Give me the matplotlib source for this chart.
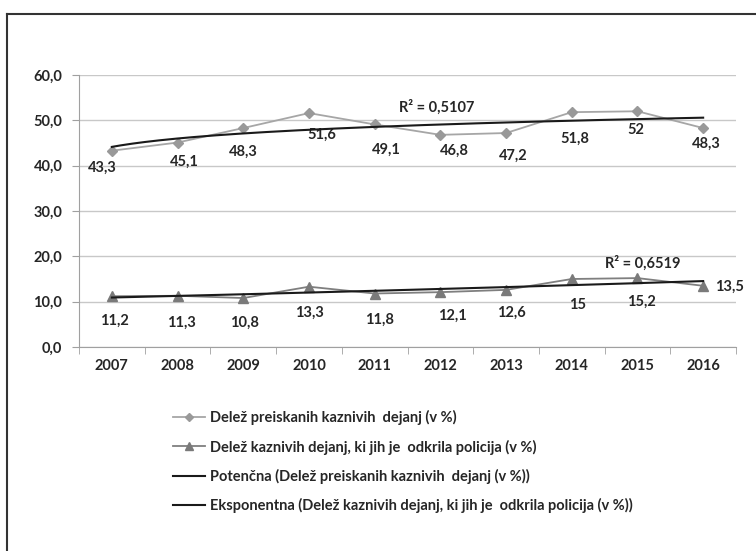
import numpy as np
import matplotlib.pyplot as plt
from matplotlib.lines import Line2D

plt.rcParams['font.family'] = ['Lato', 'DejaVu Sans']

years = ['2007', '2008', '2009', '2010', '2011', '2012', '2013', '2014', '2015', '2016']
preiskana = [43.3, 45.1, 48.3, 51.6, 49.1, 46.8, 47.2, 51.8, 52.0, 48.3]
odkrila = [11.2, 11.3, 10.8, 13.3, 11.8, 12.1, 12.6, 15.0, 15.2, 13.5]
labels1 = ['43,3', '45,1', '48,3', '51,6', '49,1', '46,8', '47,2', '51,8', '52', '48,3']
labels2 = ['11,2', '11,3', '10,8', '13,3', '11,8', '12,1', '12,6', '15', '15,2', '13,5']
r2_labels = ['R² = 0,5107', 'R² = 0,6519']
legend_labels = ['Delež preiskanih kaznivih  dejanj (v %)',
                 'Delež kaznivih dejanj, ki jih je  odkrila policija (v %)',
                 'Potenčna (Delež preiskanih kaznivih  dejanj (v %))',
                 'Eksponentna (Delež kaznivih dejanj, ki jih je  odkrila policija (v %))']

# label offsets (pixels) - placed roughly like in the original
off1 = [(-10, -17), (7, -19), (0, -24), (13, -22), (12, -25), (14, -16), (7, -23), (3, -27), (-2, -19), (3, -16)]
off2 = [(3, -25), (4, -27), (1, -25), (1, -26), (5, -26), (12, -24), (5, -23), (6, -26), (4, -24), (26, -1)]

txt = '#262626'
fs = 10.5
fig = plt.figure(figsize=(7.56, 5.51), dpi=100)
ax = fig.add_axes([79/756, 1-347/551, (736-79)/756, (347-75)/551])

x = np.arange(len(years))
ax.plot(x, preiskana, color='#a6a6a6', lw=1.3, marker='D', ms=5, mfc='#999999', mec='#999999', zorder=3)
ax.plot(x, odkrila, color='#7f7f7f', lw=1.3, marker='^', ms=6.5, mfc='#7a7a7a', mec='#7a7a7a', zorder=3)

# trendlines: power for series 1, exponential for series 2
t = x + 1.0
ts = np.linspace(1, len(years), 200)
b1, a1 = np.polyfit(np.log(t), np.log(preiskana), 1)
b2, a2 = np.polyfit(t, np.log(odkrila), 1)
ax.plot(ts - 1, np.exp(a1) * ts ** b1, color='#1a1a1a', lw=1.5, zorder=4)
ax.plot(ts - 1, np.exp(a2 + b2 * ts), color='#1a1a1a', lw=1.5, zorder=4)

for i in range(len(years)):
    ax.annotate(labels1[i], (x[i], preiskana[i]), xytext=(off1[i][0]*0.72, off1[i][1]*0.72),
                textcoords='offset points', ha='center', va='center', fontsize=fs, color=txt, fontweight='bold')
    ax.annotate(labels2[i], (x[i], odkrila[i]), xytext=(off2[i][0]*0.72, off2[i][1]*0.72),
                textcoords='offset points', ha='center', va='center', fontsize=fs, color=txt, fontweight='bold')

ax.text(4.95, 52.8, r2_labels[0], ha='center', va='center', fontsize=fs, color=txt, fontweight='bold')
ax.text(8.08, 18.5, r2_labels[1], ha='center', va='center', fontsize=fs, color=txt, fontweight='bold')

ax.set_xlim(-0.5, len(years) - 0.5)
ax.set_ylim(0, 60)
ax.set_yticks(np.arange(0, 61, 10))
ax.set_yticklabels([f'{v:.1f}'.replace('.', ',') for v in np.arange(0, 61, 10)])
ax.set_xticks(x)
ax.set_xticklabels(years)
ax.set_xticks(np.arange(-0.5, len(years)), minor=True)
ax.tick_params(axis='x', which='major', length=0, pad=9, labelsize=fs, labelcolor=txt)
ax.tick_params(axis='x', which='minor', length=5, color='#a0a0a0', direction='out')
ax.tick_params(axis='y', length=5, color='#a0a0a0', pad=7, labelsize=fs, labelcolor=txt)
for lab in ax.get_xticklabels() + ax.get_yticklabels():
    lab.set_fontweight('bold')
ax.grid(axis='y', color='#c8c8c8', lw=1)
ax.set_axisbelow(True)
for s in ['top', 'right']:
    ax.spines[s].set_visible(False)
ax.spines['left'].set_color('#a0a0a0')
ax.spines['bottom'].set_color('#a0a0a0')

handles = [Line2D([], [], color='#a6a6a6', lw=1.3, marker='D', ms=4, mfc='#999999', mec='#999999'),
           Line2D([], [], color='#7f7f7f', lw=1.3, marker='^', ms=5.5, mfc='#7a7a7a', mec='#7a7a7a'),
           Line2D([], [], color='#1a1a1a', lw=1.5),
           Line2D([], [], color='#1a1a1a', lw=1.5)]
leg = fig.legend(handles, legend_labels, loc='upper left', bbox_to_anchor=(160/756, 1-397/551),
                 frameon=False, fontsize=10.5, handlelength=2.2, handletextpad=0.3, labelspacing=0.98)
for tx in leg.get_texts():
    tx.set_color(txt)
    tx.set_fontweight('bold')

# outer frame (top and left edges visible)
fig.add_artist(Line2D([7/756, 1], [1-14/551, 1-14/551], color='#333333', lw=1.5))
fig.add_artist(Line2D([7/756, 7/756], [0, 1-14/551], color='#333333', lw=1.5))

fig.savefig('out.png', dpi=100)
